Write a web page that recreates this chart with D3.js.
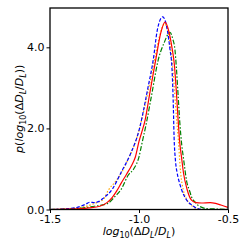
<!DOCTYPE html>
<html lang="en">
<head>
<meta charset="utf-8">
<title>log10 dDL/DL density</title>
<script src="https://cdn.jsdelivr.net/npm/d3@7"></script>
<style>
body { margin: 0; background: #fff; }
text { font-family: "DejaVu Sans", sans-serif; }
</style>
</head>
<body>
<script>
// one x/y pair per curve
var redX = [-1.5, -1.4, -1.33, -1.28, -1.22, -1.18, -1.15, -1.125, -1.1, -1.07, -1.04, -1.02, -1.0, -0.985, -0.966, -0.94, -0.92, -0.906, -0.878, -0.854, -0.83, -0.815, -0.802, -0.79, -0.78, -0.772, -0.76, -0.75, -0.73, -0.705, -0.68, -0.65, -0.6, -0.57, -0.54, -0.5];
var redY = [0, 0.01, 0.02, 0.04, 0.08, 0.17, 0.3, 0.46, 0.65, 0.87, 1.1, 1.3, 1.68, 1.9, 2.2, 2.85, 3.35, 3.69, 4.35, 4.62, 4.35, 4.0, 3.6, 2.9, 2.2, 1.7, 1.25, 0.9, 0.5, 0.23, 0.17, 0.16, 0.17, 0.15, 0.11, 0.05];

var blueX = [-1.5, -1.4, -1.35, -1.3, -1.275, -1.25, -1.225, -1.2, -1.15, -1.1, -1.05, -1.0, -0.95, -0.92, -0.897, -0.867, -0.841, -0.826, -0.815, -0.808, -0.803, -0.795, -0.785, -0.77, -0.76, -0.732, -0.704, -0.67, -0.64, -0.5];
var blueY = [0, 0.02, 0.05, 0.13, 0.18, 0.17, 0.2, 0.28, 0.5, 0.92, 1.35, 1.95, 3.0, 3.69, 4.43, 4.75, 4.43, 3.95, 3.5, 2.7, 1.8, 1.2, 0.89, 0.62, 0.48, 0.23, 0.11, 0.02, 0, 0];

var greenX = [-1.5, -1.4, -1.31, -1.25, -1.18, -1.135, -1.1, -1.06, -1.03, -1.0, -0.985, -0.96, -0.93, -0.892, -0.86, -0.826, -0.81, -0.798, -0.79, -0.78, -0.77, -0.76, -0.75, -0.732, -0.715, -0.704, -0.685, -0.667, -0.64, -0.62, -0.55, -0.5];
var greenY = [0, 0.01, 0.04, 0.08, 0.14, 0.32, 0.5, 0.85, 1.0, 1.3, 1.6, 2.1, 2.8, 3.69, 4.1, 4.37, 4.2, 3.94, 3.5, 2.8, 2.1, 1.6, 1.26, 0.69, 0.45, 0.3, 0.18, 0.1, 0.04, 0.02, 0.01, 0];

var orangeX = [-1.5, -1.4, -1.33, -1.28, -1.25, -1.2, -1.172, -1.13, -1.097, -1.06, -1.03, -1.0, -0.97, -0.94, -0.91, -0.88, -0.857, -0.835, -0.82, -0.805, -0.79, -0.779, -0.766, -0.751, -0.729, -0.7, -0.676, -0.65, -0.5];
var orangeY = [0, 0.02, 0.05, 0.1, 0.15, 0.25, 0.48, 0.7, 0.92, 1.25, 1.55, 1.95, 2.5, 3.1, 3.75, 4.35, 4.58, 4.35, 3.9, 3.2, 2.3, 1.72, 0.9, 0.48, 0.23, 0.08, 0.02, 0, 0];

var xTicks = [-1.5, -1.0, -0.5];
var yTicks = [0, 2, 4];

var W = 249, H = 249;
var mLeft = 50, mRight = 228, mTop = 8, mBottom = 209.5;

var svg = d3.select("body").append("svg").attr("width", W).attr("height", H);

var x = d3.scaleLinear().domain([-1.5, -0.5]).range([mLeft, mRight]);
var y = d3.scaleLinear().domain([0, 4.97]).range([mBottom, mTop]);

var line = d3.line()
  .x(function(d) { return x(d[0]); })
  .y(function(d) { return y(d[1]); })
  .curve(d3.curveMonotoneX);

var series = [
  { xs: orangeX, ys: orangeY, color: "orange", dash: "1.5,1.8" },
  { xs: greenX, ys: greenY, color: "green", dash: "5,1.8,1.5,1.8" },
  { xs: blueX, ys: blueY, color: "blue", dash: "3.5,1.8" },
  { xs: redX, ys: redY, color: "red", dash: null }
];

var plot = svg.append("g");
plot.append("clipPath").attr("id", "clip")
  .append("rect").attr("x", mLeft).attr("y", mTop).attr("width", mRight - mLeft).attr("height", mBottom - mTop);

series.forEach(function(s) {
  var pts = s.xs.map(function(v, i) { return [v, s.ys[i]]; });
  plot.append("path")
    .attr("d", line(pts))
    .attr("fill", "none")
    .attr("stroke", s.color)
    .attr("stroke-width", 1.2)
    .attr("stroke-dasharray", s.dash)
    .attr("clip-path", "url(#clip)");
});

var xAxis = svg.append("g").attr("transform", "translate(0," + mBottom + ")")
  .call(d3.axisBottom(x).tickValues(xTicks).tickSize(3.5).tickPadding(2)
    .tickFormat(function(d) { return d3.format(".1f")(d).replace("−", "-"); }));
var yAxis = svg.append("g").attr("transform", "translate(" + mLeft + ",0)")
  .call(d3.axisLeft(y).tickValues(yTicks).tickSize(3.5).tickPadding(2)
    .tickFormat(d3.format(".1f")));

[xAxis, yAxis].forEach(function(a) {
  a.select(".domain").remove();
  a.selectAll("line").attr("stroke", "#000").attr("stroke-width", 1);
  a.selectAll("text").attr("fill", "#000").style("font-size", "11px").style("font-family", "DejaVu Sans");
});

// frame
svg.append("rect")
  .attr("x", mLeft).attr("y", mTop)
  .attr("width", mRight - mLeft).attr("height", mBottom - mTop)
  .attr("fill", "none").attr("stroke", "#000").attr("stroke-width", 1.3);

// axis labels with subscripts
function mathLabel(g, parts) {
  parts.forEach(function(p) {
    var t = g.append("tspan").text(p.t);
    if (p.it) t.style("font-style", "italic");
    if (p.sub) {
      t.attr("dy", 2.5).style("font-size", "8px");
    } else if (p.back) {
      t.attr("dy", -2.5);
    }
  });
}

var labelParts = [
  { t: "log", it: true }, { t: "10", sub: true }, { t: "(Δ", back: true },
  { t: "D", it: true }, { t: "L", it: true, sub: true }, { t: "/", back: true },
  { t: "D", it: true }, { t: "L", it: true, sub: true }, { t: ")", back: true }
];

var xl = svg.append("text")
  .attr("x", (mLeft + mRight) / 2).attr("y", 235)
  .attr("text-anchor", "middle").style("font-size", "11px");
mathLabel(xl, labelParts);

var yl = svg.append("text")
  .attr("transform", "translate(23," + ((mTop + mBottom) / 2) + ") rotate(-90)")
  .attr("text-anchor", "middle").style("font-size", "11px");
mathLabel(yl, [{ t: "p", it: true }, { t: "(" }].concat(labelParts).concat([{ t: ")" }]));
</script>
</body>
</html>
